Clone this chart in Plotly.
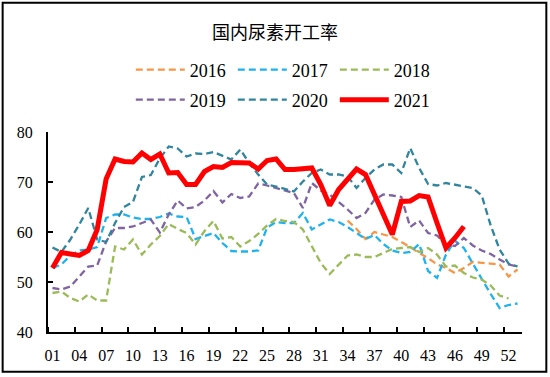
import plotly.graph_objects as go

weeks = list(range(1, 54))
tick_weeks = list(range(1, 53, 3))
tick_labels = [f"{w:02d}" for w in tick_weeks]

s2016 = [None]*33 + [62.3, 60.6, 58.6, 60.0, 59.5, 59.0, 58.0, 57.0, 55.8, 54.8,
                     53.5, 52.8, 51.8, 52.8, 54.0, 53.8, 53.6, 53.5, 51.1, 52.5]
s2017 = [52.8, 53.5, 55.3, 56.3, 56.5, 57.0, 62.8, 63.5, 63.5, 62.9,
         62.6, 62.6, 63.0, 63.7, 63.1, 63.0, 58.6, 59.2, 59.8, 57.8,
         56.2, 56.1, 56.1, 56.3, 60.9, 62.0, 61.8, 61.8, 63.8, 60.5,
         61.5, 62.5, 62.0, 61.0, 59.8, 58.6, 59.4, 57.6, 56.3, 55.8,
         56.0, 57.6, 52.2, 50.8, 55.5, 58.3, 56.8, 53.6, 50.6, 47.6,
         44.8, 45.4, 45.7]
s2018 = [47.8, 48.1, 46.8, 46.1, 47.5, 46.3, 46.3, 57.1, 56.5, 58.5,
         55.5, 57.5, 59.2, 61.6, 60.6, 59.8, 57.5, 60.2, 62.2, 58.7,
         59.0, 57.1, 58.2, 59.6, 61.3, 62.6, 62.2, 62.0, 60.5, 57.1,
         53.8, 51.6, 53.5, 55.3, 55.5, 55.0, 55.0, 55.8, 56.6, 56.8,
         57.0, 56.0, 56.8, 55.5, 53.1, 53.3, 51.8, 50.9, 50.5, 49.3,
         47.3, 46.7]
s2019 = [48.8, 48.5, 49.1, 51.1, 53.1, 53.3, 58.1, 60.8, 60.8, 61.1,
         61.8, 62.5, 59.9, 63.5, 66.3, 64.7, 65.0, 66.3, 68.2, 65.9,
         67.6, 66.8, 67.1, 69.7, 69.3, 68.8, 68.3, 67.8, 64.8, 69.8,
         68.3, 67.5, 66.0, 64.5, 62.8, 63.8, 66.5, 67.5, 67.3, 67.0,
         61.0, 62.3, 59.8, 59.3, 57.5, 57.2, 58.8, 57.3, 56.3, 55.6,
         54.5, 53.5, 53.1]
s2020 = [56.9, 56.0, 58.5, 61.5, 64.8, 58.5, 58.0, 61.8, 65.0, 66.0,
         71.0, 71.4, 74.7, 77.1, 76.7, 75.1, 75.7, 75.6, 76.0, 75.3,
         74.5, 76.5, 73.8, 71.5, 69.5, 69.1, 68.6, 68.1, 70.1, 71.8,
         72.5, 71.5, 71.5, 71.1, 68.8, 70.8, 72.5, 73.5, 73.5, 71.8,
         76.8, 72.8, 69.6, 69.3, 69.8, 69.5, 69.1, 68.8, 67.3, 61.3,
         56.5, 53.7, 53.1]
s2021 = [52.8, 55.9, 55.6, 55.3, 56.3, 60.5, 70.6, 74.6, 74.1, 74.0,
         75.8, 74.5, 75.6, 71.8, 71.9, 69.5, 69.5, 72.1, 73.1, 72.9,
         73.9, 73.9, 73.8, 72.6, 74.3, 74.6, 72.5, 72.5, 72.6, 72.8,
         69.5, 65.3, 68.5, 70.6, 72.6, 71.5, 67.5, 63.5, 59.5, 66.1,
         66.2, 67.3, 67.0, 61.8, 56.8, 58.8, 61.1]

series = [
    ("2016", s2016, "#F79646", "legend"),
    ("2017", s2017, "#1FB2EC", "legend"),
    ("2018", s2018, "#9BBB59", "legend"),
    ("2019", s2019, "#8064A2", "legend2"),
    ("2020", s2020, "#31859C", "legend2"),
]

fig = go.Figure()
for name, vals, color, lg in series:
    fig.add_trace(go.Scatter(
        x=weeks[:len(vals)], y=vals, name=name, mode="lines",
        line=dict(color=color, width=2.3, dash="7px,4px"),
        legend=lg, connectgaps=False))
fig.add_trace(go.Scatter(
    x=weeks[:len(s2021)], y=s2021, name="2021", mode="lines",
    line=dict(color="#FF0000", width=5), legend="legend2"))

serif = "Liberation Serif, Times New Roman, serif"
legend_common = dict(orientation="h", xanchor="left", yanchor="middle",
                     x=(131 - 48.3) / 473.4,
                     font=dict(family=serif, size=18, color="black"),
                     entrywidth=38, itemwidth=49, bgcolor="rgba(0,0,0,0)",
                     traceorder="normal")

fig.update_layout(
    width=550, height=377,
    margin=dict(l=48, r=28, t=132, b=45),
    paper_bgcolor="white", plot_bgcolor="white",
    title=dict(text="国内尿素开工率", x=0.5, xanchor="center", y=1 - 33/377,
               yanchor="middle",
               font=dict(family="Noto Sans CJK SC", size=18, color="black")),
    legend=dict(y=1.31, **legend_common),
    legend2=dict(y=1.16, **legend_common),
    xaxis=dict(range=[0.5, 53.5], tickmode="array", tickvals=tick_weeks,
               ticktext=tick_labels, ticks="", showline=True,
               linecolor="black", linewidth=2, showgrid=False, zeroline=False,
               tickfont=dict(family=serif, size=16, color="black"),
               ticklabelstandoff=8,
               minor=dict(tickmode="array",
                          tickvals=[w - 0.5 for w in tick_weeks],
                          ticks="inside", ticklen=5, tickwidth=1.5,
                          tickcolor="black", showgrid=False)),
    yaxis=dict(range=[40, 80], tickmode="array", tickvals=[40, 50, 60, 70, 80],
               ticks="inside", ticklen=5, tickwidth=1.5, tickcolor="black",
               showline=True, linecolor="black", linewidth=2, showgrid=False,
               zeroline=False, ticklabelstandoff=10,
               tickfont=dict(family=serif, size=16, color="black")),
    shapes=[dict(type="rect", xref="paper", yref="paper",
                 x0=(3 - 48.3)/473.4, x1=(546 - 48.3)/473.4,
                 y0=(332.3 - 372)/200, y1=(332.3 - 3)/200,
                 line=dict(color="black", width=2), fillcolor="rgba(0,0,0,0)",
                 layer="above")],
)

fig.write_html("out.html", config={"displayModeBar": False},
               post_script="document.body.style.margin='0';")
